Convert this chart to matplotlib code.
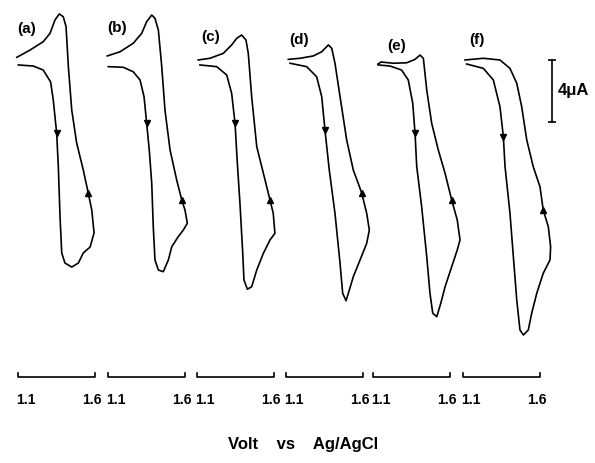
import matplotlib
matplotlib.use("Agg")
import matplotlib.pyplot as plt

plt.rcParams['font.family'] = ['Liberation Sans', 'DejaVu Sans']

# cyclic voltammograms, potential in V vs Ag/AgCl, current in uA
panel_names = ['(a)', '(b)', '(c)', '(d)', '(e)', '(f)']

volt_a = [1.102, 1.199, 1.264, 1.312, 1.329, 1.351, 1.362, 1.373, 1.384, 1.405, 1.449, 1.492, 1.524, 1.568, 1.594,
          1.579, 1.556, 1.524, 1.481, 1.449, 1.427, 1.412, 1.394, 1.368, 1.340, 1.308, 1.264, 1.178, 1.092]
curr_a = [19.81, 19.74, 19.48, 18.71, 17.55, 15.42, 13.23, 10.0, 7.68, 7.03, 6.77, 7.03, 7.68, 8.06, 8.97,
          10.45, 11.55, 13.03, 14.77, 16.90, 19.70, 22.28, 22.92, 23.10, 22.71, 21.85, 21.31, 20.77, 20.30]

volt_b = [1.102, 1.199, 1.264, 1.308, 1.334, 1.351, 1.368, 1.384, 1.394, 1.405, 1.427, 1.459, 1.492, 1.514, 1.556, 1.589,
          1.615, 1.600, 1.579, 1.546, 1.503, 1.470, 1.449, 1.427, 1.405, 1.384, 1.351, 1.319, 1.264, 1.178, 1.095]
curr_b = [19.70, 19.66, 19.37, 18.84, 17.76, 16.05, 14.32, 12.17, 9.37, 7.23, 6.58, 6.47, 7.23, 8.08, 8.73, 9.16,
          9.59, 10.45, 11.10, 12.39, 14.32, 16.90, 19.70, 22.06, 22.82, 23.03, 22.60, 21.85, 21.21, 20.66, 20.39]

volt_c = [1.119, 1.228, 1.293, 1.325, 1.347, 1.362, 1.379, 1.397, 1.405, 1.427, 1.455, 1.488, 1.531, 1.574,
          1.606, 1.595, 1.574, 1.531, 1.488, 1.455, 1.433, 1.418, 1.390, 1.358, 1.325, 1.271, 1.184, 1.108]
curr_c = [19.81, 19.70, 19.16, 17.98, 16.05, 13.46, 10.88, 7.66, 5.94, 5.34, 5.50, 6.58, 7.66, 8.52,
          8.95, 10.24, 11.10, 12.82, 14.54, 17.76, 20.56, 21.42, 21.74, 21.53, 21.10, 20.56, 20.24, 20.13]

volt_d = [1.126, 1.234, 1.299, 1.332, 1.353, 1.381, 1.418, 1.451, 1.468, 1.490, 1.505, 1.537, 1.581, 1.624,
          1.641, 1.624, 1.592, 1.569, 1.537, 1.494, 1.451, 1.418, 1.397, 1.375, 1.332, 1.277, 1.191, 1.115]
curr_d = [19.92, 19.70, 19.05, 17.76, 15.61, 13.03, 10.24, 7.01, 5.08, 4.60, 5.08, 6.15, 7.23, 8.30,
          9.16, 10.24, 11.53, 12.17, 13.03, 14.97, 17.76, 19.92, 20.88, 21.10, 20.66, 20.39, 20.24, 20.17]

volt_e = [1.134, 1.210, 1.286, 1.329, 1.358, 1.373, 1.384, 1.416, 1.449, 1.470, 1.488, 1.514, 1.540, 1.568, 1.611,
          1.647, 1.665, 1.647, 1.611, 1.568, 1.524, 1.481, 1.449, 1.427, 1.405, 1.373, 1.319, 1.232, 1.152, 1.132]
curr_e = [19.81, 19.74, 19.48, 18.84, 17.34, 15.40, 13.25, 10.66, 7.44, 5.08, 3.79, 3.57, 4.43, 5.50, 6.79,
          7.87, 8.52, 9.81, 11.10, 12.82, 14.32, 16.05, 18.19, 20.24, 20.45, 20.17, 19.95, 19.92, 20.0, 19.87]

volt_f = [1.124, 1.232, 1.297, 1.340, 1.362, 1.373, 1.405, 1.427, 1.449, 1.470, 1.492, 1.524, 1.546, 1.579,
          1.621, 1.665, 1.669, 1.654, 1.621, 1.600, 1.556, 1.514, 1.481, 1.449, 1.405, 1.340, 1.232, 1.113]
curr_f = [19.87, 19.59, 18.84, 17.12, 15.18, 13.25, 10.24, 7.44, 4.65, 2.71, 2.39, 2.71, 3.79, 5.08,
          6.37, 7.23, 8.08, 9.37, 10.45, 11.95, 13.25, 14.97, 17.12, 18.63, 19.59, 20.13, 20.24, 20.13]

volts = [volt_a, volt_b, volt_c, volt_d, volt_e, volt_f]
currs = [curr_a, curr_b, curr_c, curr_d, curr_e, curr_f]
arrow_down = [5, 5, 4, 4, 5, 4]   # index of the scan-direction arrow, forward sweep
arrow_up = [16, 18, 16, 16, 18, 18]

scale_ua = 4  # current scale bar

W, H = 595, 463
fig = plt.figure(figsize=(W / 100, H / 100), dpi=100)

bar_left = [18, 108, 197, 286, 373, 463]   # px
bar_w = 77
px_per_ua = 15.5
y_zero = 372  # px row of current zero
ylim = ((y_zero - H) / px_per_ua, y_zero / px_per_ua)

label_pos = [(1.158, 22.1), (1.158, 22.2), (1.191, 21.6), (1.184, 21.4), (1.256, 21.0), (1.191, 21.4)]

for k in range(6):
    ax = fig.add_axes([bar_left[k] / W, 0, bar_w / W, 1])
    ax.set_xlim(1.1, 1.6)
    ax.set_ylim(*ylim)
    ax.axis('off')
    v, c = volts[k], currs[k]
    ax.plot(v, c, color='k', lw=1.2, clip_on=False, solid_joinstyle='round')
    ax.plot(v[arrow_down[k]], c[arrow_down[k]], 'kv', ms=5, clip_on=False)
    ax.plot(v[arrow_up[k]], c[arrow_up[k]], 'k^', ms=5, clip_on=False)
    ax.text(*label_pos[k], panel_names[k], fontsize=11, fontweight='bold', ha='center', va='center')

    # potential scale bar under each curve
    yb = -0.32
    ax.plot([1.1, 1.1, 1.6, 1.6], [yb + 0.25, yb, yb, yb + 0.25], color='k', lw=1.2, clip_on=False)
    ax.annotate('1.1', (1.1, -1.8), xytext=(-1, 0), textcoords='offset points',
                ha='left', va='center', fontsize=10, fontweight='bold')
    ax.annotate('1.6', (1.6, -1.8), xytext=(5, 0), textcoords='offset points',
                ha='right', va='center', fontsize=10, fontweight='bold')

    if k == 5:
        xs = 1.678
        ax.plot([xs, xs], [20.13, 20.13 - scale_ua], color='k', lw=1.2, clip_on=False)
        ax.plot([xs, xs], [20.13, 20.13 - scale_ua], 'k_', ms=6, mew=1.2, clip_on=False)
        ax.text(1.715, 20.13 - scale_ua / 2, f'{scale_ua}μA', fontsize=12, fontweight='bold',
                ha='left', va='center', clip_on=False)

fig.text(303 / W, 1 - 444 / H, 'Volt    vs    Ag/AgCl', fontsize=12, fontweight='bold',
         ha='center', va='center')

fig.savefig('out.png', dpi=100)
